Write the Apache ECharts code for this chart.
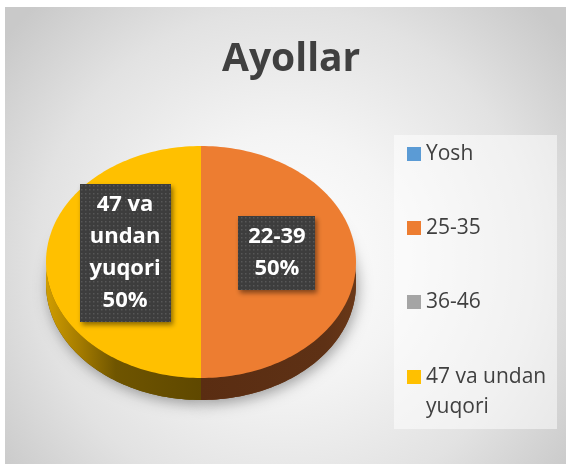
<!DOCTYPE html>
<html><head><meta charset="utf-8">
<script src="https://cdn.jsdelivr.net/npm/echarts@6/dist/echarts.min.js"></script>
<style>html,body{margin:0;padding:0;background:#fff}#c{width:566px;height:464px}</style>
</head><body><div id="c"></div>
<script>
// ---- data ----
const chartTitle = 'Ayollar';
const categories = ['Yosh', '25-35', '36-46', '47 va undan yuqori'];
const legendLabels = ['Yosh', '25-35', '36-46', '47 va undan\nyuqori'];
const sliceLabels = ['Yosh', '22-39', '36-46', '47 va\nundan\nyuqori'];
const values = [0, 50, 0, 50];

// ---- style ----
const colors = ['#5b9bd5', '#ed7d31', '#a5a5a5', '#ffc000'];
const sideStops = [
  [[0, '#3b6890'], [1, '#2c4e6d']],
  [[0, '#5a2d12'], [0.8, '#5e3115'], [1, '#6a3818']],
  [[0, '#6e6e6e'], [1, '#555555']],
  [[0, '#d09d00'], [0.22, '#a47b00'], [0.45, '#6f5500'], [1, '#5f4800']]
];
const PIE = { cx: 201, cy: 262, rx: 155, ry: 116, depth: 22, labelR: 0.49, labelDy: -9 };
const LABEL_FONT = 'bold 22px "Open Sans"';
const LABEL_LH = 32;

// dotted label background tile
const tile = document.createElement('canvas');
tile.width = 4; tile.height = 4;
const tctx = tile.getContext('2d');
tctx.fillStyle = '#3d3d3d'; tctx.fillRect(0, 0, 4, 4);
tctx.fillStyle = '#575757'; tctx.fillRect(1, 1, 1.5, 1.5);

const measureCtx = document.createElement('canvas').getContext('2d');
measureCtx.font = LABEL_FONT;

const total = values.reduce((a, b) => a + b, 0);

function arcPts(cx, cy, a0, a1, n) {
  const pts = [];
  for (let k = 0; k <= n; k++) {
    const t = a0 + (a1 - a0) * k / n;
    pts.push([cx + PIE.rx * Math.cos(t), cy + PIE.ry * Math.sin(t)]);
  }
  return pts;
}

function makeRender(idx) {
  return function (params, api) {
    const v = api.value(0);
    if (!v) return null;
    let before = 0;
    for (let k = 0; k < idx; k++) before += values[k];
    const a0 = -Math.PI / 2 + before / total * 2 * Math.PI;
    const a1 = a0 + v / total * 2 * Math.PI;
    const cx = PIE.cx, cy = PIE.cy, d = PIE.depth;
    const n = Math.max(8, Math.round((a1 - a0) * 40));
    const top = [[cx, cy]].concat(arcPts(cx, cy, a0, a1, n));
    const base = [[cx, cy + d]].concat(arcPts(cx, cy + d, a0, a1, n));
    const children = [];
    children.push({
      type: 'polygon', z2: 1, shape: { points: base },
      style: { fill: sideStops[idx][sideStops[idx].length - 1][1], shadowBlur: 14, shadowColor: 'rgba(0,0,0,0.35)', shadowOffsetX: 2, shadowOffsetY: 4 }
    });
    const s = Math.max(a0, 0), e = Math.min(a1, Math.PI);
    if (e > s) {
      const m = Math.max(4, Math.round((e - s) * 40));
      const upper = arcPts(cx, cy, s, e, m);
      const lower = arcPts(cx, cy + d, s, e, m).reverse();
      children.push({
        type: 'polygon', z2: 2, shape: { points: upper.concat(lower) },
        style: {
          fill: new echarts.graphic.LinearGradient(0, 0, 1, 0,
            sideStops[idx].map(st => ({ offset: st[0], color: st[1] })))
        }
      });
    }
    children.push({ type: 'polygon', z2: 3, shape: { points: top }, style: { fill: colors[idx] } });
    const mid = (a0 + a1) / 2;
    const lx = cx + PIE.labelR * PIE.rx * Math.cos(mid);
    const ly = cy + PIE.labelR * PIE.ry * Math.sin(mid) + PIE.labelDy;
    const text = sliceLabels[idx] + '\n' + Math.round(v / total * 100) + '%';
    const lines = text.split('\n');
    const tw = Math.max.apply(null, lines.map(l => measureCtx.measureText(l).width));
    const bw = Math.round(tw + 20), bh = lines.length * LABEL_LH + 10;
    children.push({
      type: 'rect', z2: 4, shape: { x: Math.round(lx - bw / 2), y: Math.round(ly - bh / 2), width: bw, height: bh },
      style: {
        fill: { image: tile, repeat: 'repeat' },
        shadowColor: 'rgba(0,0,0,0.45)', shadowBlur: 5, shadowOffsetX: 2, shadowOffsetY: 3
      }
    });
    children.push({
      type: 'text', z2: 5, x: lx, y: ly,
      style: {
        text: text, fill: '#ffffff', font: LABEL_FONT, align: 'center', verticalAlign: 'middle',
        lineHeight: LABEL_LH
      }
    });
    return { type: 'group', children: children };
  };
}

const legendBase = {
  orient: 'vertical', left: 407, padding: 0, itemWidth: 14, itemHeight: 14, itemGap: 44,
  icon: 'rect', selectedMode: false,
  textStyle: { fontFamily: 'Open Sans', fontSize: 21, color: '#404040', lineHeight: 30 }
};

const chart = echarts.init(document.getElementById('c'));
chart.setOption({
  animation: false,
  graphic: [
    {
      type: 'rect', z: -10, silent: true, shape: { x: 5, y: 7, width: 561, height: 457 },
      style: {
        fill: new echarts.graphic.RadialGradient(0.5, 0.55, 0.78, [
          { offset: 0, color: '#ffffff' }, { offset: 0.35, color: '#f4f4f4' },
          { offset: 0.7, color: '#e2e2e2' }, { offset: 1, color: '#c9c9c9' }])
      }
    },
    {
      type: 'rect', z: -9, silent: true, shape: { x: 394, y: 135, width: 163, height: 294 },
      style: { fill: 'rgba(255,255,255,0.5)' }
    }
  ],
  title: {
    text: chartTitle, left: 222, top: 40, padding: 0,
    textStyle: { fontFamily: 'Open Sans', fontWeight: 'bold', fontSize: 39, color: '#404040' }
  },
  legend: [
    Object.assign({}, legendBase, {
      top: 139,
      formatter: name => legendLabels[categories.indexOf(name)],
      data: categories.slice(0, categories.length - 1)
    }),
    Object.assign({}, legendBase, {
      top: 332,
      // leading blank line keeps the icon level with the first text line
      formatter: name => '\n' + legendLabels[categories.indexOf(name)],
      data: [categories[categories.length - 1]]
    })
  ],
  series: categories.map((c, i) => ({
    type: 'custom', name: c, coordinateSystem: 'none', silent: true,
    itemStyle: { color: colors[i] },
    data: [[values[i]]],
    renderItem: makeRender(i)
  }))
});
</script></body></html>
